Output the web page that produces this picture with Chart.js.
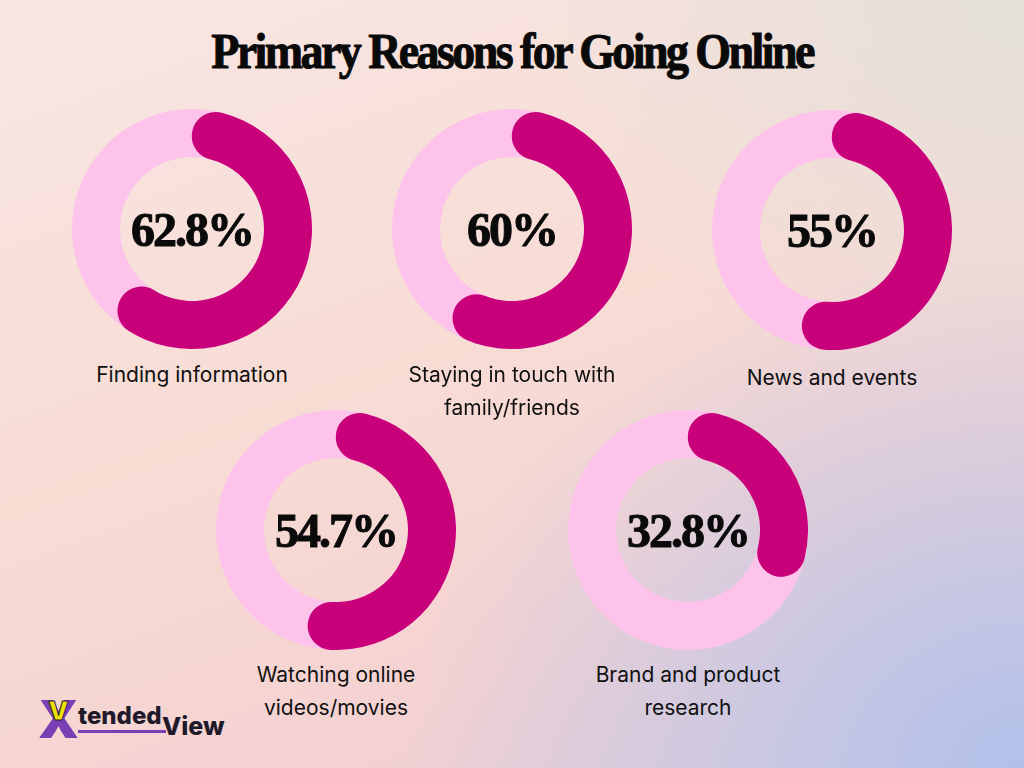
<!DOCTYPE html>
<html>
<head>
<meta charset="utf-8">
<script src="https://cdn.jsdelivr.net/npm/chart.js@4.4.0/dist/chart.umd.min.js"></script>
<style>
  html, body {
    margin: 0;
    padding: 0;
  }
  body {
    width: 1024px;
    height: 768px;
    position: relative;
    overflow: hidden;
    background:
      radial-gradient(ellipse 620px 520px at 1024px 768px, rgba(178, 192, 234, 1) 0%, rgba(185, 196, 232, 0.75) 35%, rgba(200, 200, 228, 0) 100%),
      radial-gradient(ellipse 500px 400px at 1024px 0px, rgba(228, 224, 218, 1) 0%, rgba(228, 224, 218, 0) 100%),
      linear-gradient(160deg, #f9e6e3 0%, #f7dcd4 45%, #f5d2d2 75%, #e6cdd8 100%);
  }
  .title {
    position: absolute;
    left: 0;
    top: 22px;
    width: 1024px;
    text-align: center;
    font-family: "Liberation Serif", serif;
    font-weight: bold;
    font-size: 50px;
    letter-spacing: -2.8px;
    transform: scaleX(0.92);
    -webkit-text-stroke: 1px #0a0a0a;
    color: #0a0a0a;
  }
  .donut {
    position: absolute;
    width: 240px;
    height: 240px;
  }
  .pct {
    position: absolute;
    left: 0;
    width: 240px;
    top: 93px;
    text-align: center;
    font-family: "Liberation Serif", serif;
    font-weight: bold;
    font-size: 48px;
    letter-spacing: -2px;
    line-height: 56px;
    -webkit-text-stroke: 1px #0a0a0a;
    color: #0a0a0a;
    pointer-events: none;
  }
  .label {
    position: absolute;
    width: 300px;
    text-align: center;
    font-family: Inter, "Noto Sans", sans-serif;
    font-size: 21px;
    line-height: 33px;
    color: #101010;
  }
  .logo {
    position: absolute;
    left: 38px;
    top: 694px;
    height: 50px;
    width: 200px;
    font-family: Inter, "Noto Sans", sans-serif;
    font-weight: 800;
    color: #1e1a2a;
  }
  .logo span {
    position: absolute;
  }
  .logo .x {
    left: 0;
    top: 0;
    font-size: 52px;
    line-height: 52px;
    color: #7b3fb5;
    font-weight: 900;
  }
  .logo .v {
    left: 10px;
    top: 4px;
    font-size: 26px;
    line-height: 26px;
    color: #efe000;
    font-weight: 900;
    -webkit-text-stroke: 1px #2a2040;
  }
  .logo .tended {
    left: 40px;
    top: 9px;
    font-size: 24px;
    line-height: 26px;
    padding-bottom: 1px;
    border-bottom: 3px solid #7b3fb5;
    padding-right: 4px;
  }
  .logo .view {
    left: 124px;
    top: 18px;
    font-size: 25px;
    line-height: 28px;
  }
</style>
</head>
<body>
<div class="title">Primary Reasons for Going Online</div>
<div id="charts"></div>
<div class="logo"><span class="x">X</span><span class="v">V</span><span class="tended">tended</span><span class="view">View</span></div>

<script>
const reasons = [
  ["Finding information"],
  ["Staying in touch with", "family/friends"],
  ["News and events"],
  ["Watching online", "videos/movies"],
  ["Brand and product", "research"],
];
const shares = [62.8, 60, 55, 54.7, 32.8];
const shareLabels = ["62.8%", "60%", "55%", "54.7%", "32.8%"];

const centers = [
  [192, 229],
  [512, 229],
  [832, 230],
  [336, 530],
  [688, 530],
];
const labelTops = [358, 358, 361, 658, 658];

const fillColor = "#c8007a";
const trackColor = "#fdc3ea";

// full ring behind the value arc, using the arc geometry from the chart
const trackPlugin = {
  id: "track",
  beforeDatasetsDraw(chart) {
    const arc = chart.getDatasetMeta(0).data[0];
    if (!arc) return;
    const { x, y, innerRadius, outerRadius } = arc.getProps(
      ["x", "y", "innerRadius", "outerRadius"],
      true
    );
    const ctx = chart.ctx;
    ctx.save();
    ctx.beginPath();
    ctx.arc(x, y, outerRadius, 0, Math.PI * 2);
    ctx.arc(x, y, innerRadius, 0, Math.PI * 2, true);
    ctx.closePath();
    ctx.fillStyle = trackColor;
    ctx.fill();
    ctx.restore();
  },
};

const holder = document.getElementById("charts");

shares.forEach((v, i) => {
  const box = document.createElement("div");
  box.className = "donut";
  box.style.left = centers[i][0] - 120 + "px";
  box.style.top = centers[i][1] - 120 + "px";
  const canvas = document.createElement("canvas");
  box.appendChild(canvas);
  const pct = document.createElement("div");
  pct.className = "pct";
  pct.textContent = shareLabels[i];
  box.appendChild(pct);
  holder.appendChild(box);

  const lab = document.createElement("div");
  lab.className = "label";
  lab.style.left = centers[i][0] - 150 + "px";
  lab.style.top = labelTops[i] + "px";
  lab.innerHTML = reasons[i].join("<br>");
  document.body.appendChild(lab);

  new Chart(canvas, {
    type: "doughnut",
    data: {
      labels: [reasons[i].join(" "), ""],
      datasets: [
        {
          data: [v, 100 - v],
          backgroundColor: [fillColor, "rgba(0,0,0,0)"],
          borderWidth: 0,
          borderRadius: [30, 0],
        },
      ],
    },
    options: {
      responsive: true,
      maintainAspectRatio: false,
      cutout: "60%",
      animation: false,
      layout: { padding: 0 },
      plugins: {
        legend: { display: false },
        tooltip: { enabled: false },
      },
    },
    plugins: [trackPlugin],
  });
});
</script>
</body>
</html>
